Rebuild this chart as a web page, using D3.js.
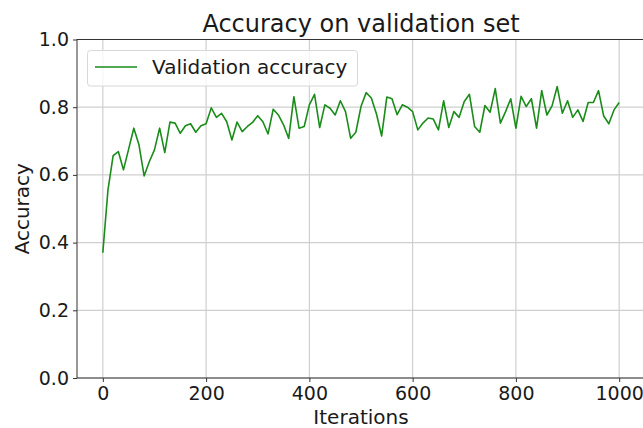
<!DOCTYPE html>
<html lang="en">
<head>
    <meta charset="UTF-8">
    <title>Accuracy on validation set</title>
    <script type="text/javascript" src="https://cdnjs.cloudflare.com/ajax/libs/d3/7.8.5/d3.min.js"></script>
    <style>
        body { margin: 0; background: white; }
        svg { font-family: "DejaVu Sans", sans-serif; }
    </style>
</head>
<body>
<svg id="chart" width="643" height="428"></svg>

<script type="text/javascript">
    // validation accuracy, one reading every 10 iterations
    const accuracy = [
        0.370, 0.556, 0.657, 0.669, 0.615, 0.676, 0.738, 0.689, 0.597, 0.639,
        0.674, 0.738, 0.666, 0.756, 0.753, 0.723, 0.745, 0.751, 0.726, 0.745,
        0.751, 0.798, 0.770, 0.782, 0.757, 0.703, 0.756, 0.728, 0.743, 0.755,
        0.775, 0.757, 0.721, 0.794, 0.777, 0.748, 0.708, 0.831, 0.738, 0.743,
        0.807, 0.838, 0.740, 0.807, 0.797, 0.777, 0.819, 0.787, 0.708, 0.726,
        0.802, 0.843, 0.827, 0.780, 0.715, 0.830, 0.825, 0.778, 0.807, 0.800,
        0.787, 0.733, 0.753, 0.768, 0.765, 0.733, 0.819, 0.740, 0.787, 0.770,
        0.817, 0.838, 0.743, 0.726, 0.805, 0.785, 0.855, 0.753, 0.787, 0.825,
        0.738, 0.832, 0.802, 0.825, 0.738, 0.849, 0.777, 0.804, 0.861, 0.782,
        0.819, 0.770, 0.792, 0.758, 0.814, 0.814, 0.849, 0.774, 0.751, 0.792,
        0.814
    ];
    const iterations = d3.range(0, 1001, 10);
    const xTicks = [0, 200, 400, 600, 800, 1000];
    const yTicks = [0.0, 0.2, 0.4, 0.6, 0.8, 1.0];

    const svg = d3.select("#chart");
    const plotLeft = 77, plotRight = 645, plotTop = 39.5, plotBottom = 378;

    const x = d3.scaleLinear().domain([-50, 1050]).range([plotLeft, plotRight]);
    const y = d3.scaleLinear().domain([0, 1]).range([plotBottom, plotTop]);

    // grid
    svg.append("g")
        .selectAll("line")
        .data(xTicks)
        .enter().append("line")
        .attr("x1", d => x(d)).attr("x2", d => x(d))
        .attr("y1", plotTop).attr("y2", plotBottom)
        .attr("stroke", "#cfcfcf").attr("stroke-width", 1.2);
    svg.append("g")
        .selectAll("line")
        .data(yTicks)
        .enter().append("line")
        .attr("x1", plotLeft).attr("x2", plotRight)
        .attr("y1", d => y(d)).attr("y2", d => y(d))
        .attr("stroke", "#cfcfcf").attr("stroke-width", 1.2);

    // axes
    const xAxis = svg.append("g")
        .attr("transform", "translate(0," + plotBottom + ")")
        .call(d3.axisBottom(x).tickValues(xTicks).tickSize(4).tickPadding(5).tickFormat(d3.format("d")));
    const yAxis = svg.append("g")
        .attr("transform", "translate(" + plotLeft + ",0)")
        .call(d3.axisLeft(y).tickValues(yTicks).tickSize(4).tickPadding(4).tickFormat(d3.format(".1f")));
    [xAxis, yAxis].forEach(function(a) {
        a.select(".domain").remove();
        a.selectAll("line").attr("stroke", "#333");
        a.selectAll("text")
            .attr("fill", "#1a1a1a")
            .style("font-size", "19px")
            .style("font-family", "DejaVu Sans");
    });

    // spines
    svg.append("rect")
        .attr("x", plotLeft).attr("y", plotTop)
        .attr("width", plotRight - plotLeft).attr("height", plotBottom - plotTop)
        .attr("fill", "none").attr("stroke", "#333").attr("stroke-width", 1);

    // the line
    const line = d3.line()
        .x((d, i) => x(iterations[i]))
        .y(d => y(d));
    svg.append("path")
        .datum(accuracy)
        .attr("d", line)
        .attr("fill", "none")
        .attr("stroke", "#1a8c1a")
        .attr("stroke-width", 1.6)
        .attr("stroke-linejoin", "round");

    // legend
    const legend = svg.append("g");
    legend.append("rect")
        .attr("x", 87.5).attr("y", 50.5)
        .attr("width", 270).attr("height", 35.5)
        .attr("rx", 3)
        .attr("fill", "white").attr("fill-opacity", 0.8)
        .attr("stroke", "#d8d8d8");
    legend.append("line")
        .attr("x1", 95).attr("x2", 137)
        .attr("y1", 67).attr("y2", 67)
        .attr("stroke", "#1a8c1a").attr("stroke-width", 1.6);
    legend.append("text")
        .attr("x", 152).attr("y", 74)
        .style("font-size", "20px")
        .attr("fill", "#1a1a1a")
        .text("Validation accuracy");

    // titles
    svg.append("text")
        .attr("x", (plotLeft + plotRight) / 2).attr("y", 32)
        .attr("text-anchor", "middle")
        .style("font-size", "24px")
        .attr("fill", "#1a1a1a")
        .text("Accuracy on validation set");
    svg.append("text")
        .attr("x", (plotLeft + plotRight) / 2).attr("y", 424)
        .attr("text-anchor", "middle")
        .style("font-size", "20px")
        .attr("fill", "#1a1a1a")
        .text("Iterations");
    svg.append("text")
        .attr("transform", "translate(29," + ((plotTop + plotBottom) / 2) + ") rotate(-90)")
        .attr("text-anchor", "middle")
        .style("font-size", "20px")
        .attr("fill", "#1a1a1a")
        .text("Accuracy");
</script>

</body>
</html>
